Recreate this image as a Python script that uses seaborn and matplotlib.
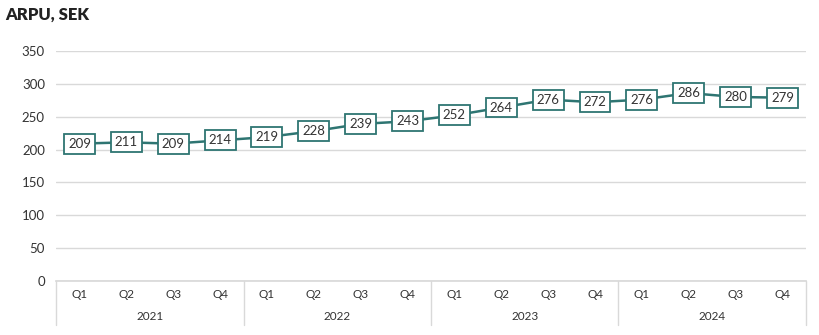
import matplotlib
matplotlib.use("Agg")
import matplotlib.pyplot as plt
import seaborn as sns
import pandas as pd

years = ["2021", "2022", "2023", "2024"]
quarters = ["Q1", "Q2", "Q3", "Q4"]
arpu = [209, 211, 209, 214, 219, 228, 239, 243, 252, 264, 276, 272, 276, 286, 280, 279]

sns.set_theme(style="white")
plt.rcParams["font.family"] = ["Lato", "DejaVu Sans"]

df = pd.DataFrame({
    "idx": range(len(arpu)),
    "arpu": arpu,
})

teal = "#2E7572"
text_c = "#333333"
grid_c = "#D9D9D9"

fig = plt.figure(figsize=(8.19, 3.35), dpi=100)
ax = fig.add_axes([0.0684, 0.1612, 0.9157, 0.6866])

sns.lineplot(data=df, x="idx", y="arpu", ax=ax, color=teal, linewidth=1.8, zorder=3)

for i, v in zip(df["idx"], df["arpu"]):
    ax.text(i, v, str(v), ha="center", va="center", fontsize=9.5, color=text_c, zorder=4,
            bbox=dict(boxstyle="square,pad=0.3", fc="white", ec=teal, lw=1.3))

ax.set_xlim(-0.5, len(arpu) - 0.5)
ax.set_ylim(0, 350)
ax.set_yticks(range(0, 351, 50))
ax.yaxis.grid(True, color=grid_c, linewidth=1)
ax.set_axisbelow(True)
for s in ["top", "right", "left"]:
    ax.spines[s].set_visible(False)
ax.spines["bottom"].set_color(grid_c)
ax.tick_params(axis="y", length=0, labelsize=9.5, labelcolor=text_c, pad=8)
ax.set_xticks([])
ax.set_xlabel("")
ax.set_ylabel("")

# two-level category labels below the axis
trans = ax.get_xaxis_transform()
for yi, yr in enumerate(years):
    for qi, q in enumerate(quarters):
        ax.text(yi * 4 + qi, -0.06, q, transform=trans, ha="center", va="center",
                fontsize=8.5, color=text_c)
    ax.text(yi * 4 + 1.5, -0.155, yr, transform=trans, ha="center", va="center",
            fontsize=8.5, color=text_c)
for b in range(len(years) + 1):
    ax.plot([b * 4 - 0.5, b * 4 - 0.5], [0, -0.19], transform=trans, color=grid_c,
            linewidth=1, clip_on=False)

fig.text(0.006, 0.955, "ARPU, SEK", fontsize=12, fontweight="heavy", color="#222222",
         ha="left", va="center")

fig.savefig("out.png", dpi=100)
